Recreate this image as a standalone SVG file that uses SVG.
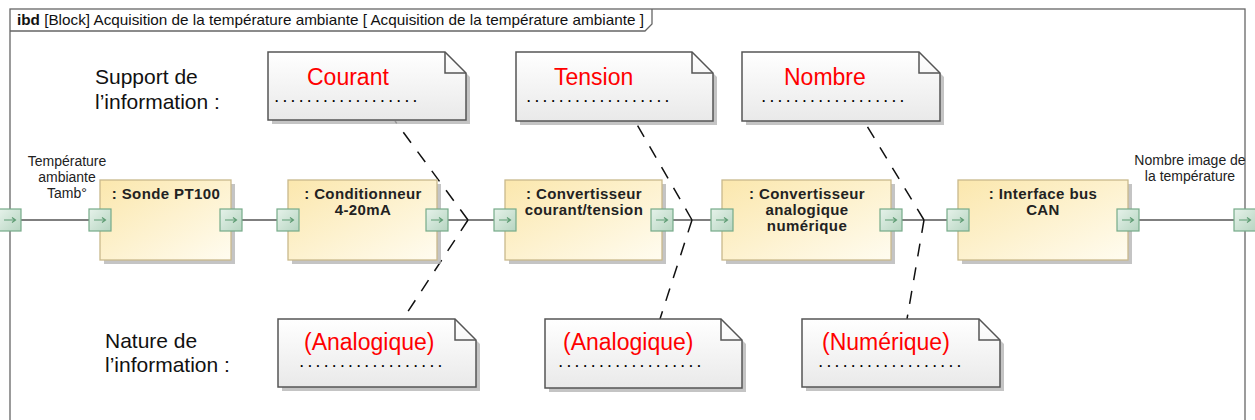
<svg xmlns="http://www.w3.org/2000/svg" width="1255" height="420" viewBox="0 0 1255 420">
<defs>
<linearGradient id="gBlock" x1="0" y1="0" x2="1" y2="1"><stop offset="0" stop-color="#fbe7ad"/><stop offset="1" stop-color="#fffcf0"/></linearGradient>
<linearGradient id="gNote" x1="0" y1="0" x2="0" y2="1"><stop offset="0" stop-color="#ffffff"/><stop offset="1" stop-color="#e9e9e9"/></linearGradient>
<linearGradient id="gPort" x1="0" y1="0" x2="1" y2="1"><stop offset="0" stop-color="#e6f2ea"/><stop offset="1" stop-color="#b6d5c1"/></linearGradient>
<g id="port">
<rect x="0" y="0" width="22" height="22" fill="url(#gPort)" stroke="#76ab89" stroke-width="1.2"/>
<path d="M5 11 H16 M13 8.5 L16.5 11 L13 13.5" fill="none" stroke="#5f9c74" stroke-width="1.2"/>
</g>
</defs>
<style>
.frame{fill:none;stroke:#666;stroke-width:1.3}
.blk{fill:url(#gBlock);stroke:#c9b98c;stroke-width:1.3}
.shadow{fill:#b5b5b5;opacity:0.8}
.note{fill:url(#gNote);stroke:#555;stroke-width:1.5}
.fold{fill:none;stroke:#555;stroke-width:1.5}
.conn{stroke:#555;stroke-width:1.6;fill:none}
.dash{stroke:#111;stroke-width:1.5;fill:none;stroke-dasharray:13 11}
.bt{font-family:"Liberation Sans",Arial,sans-serif;font-weight:bold;font-size:15px;fill:#222;text-anchor:middle;letter-spacing:0.4px}
.lbl{font-family:"Liberation Sans",Arial,sans-serif;font-size:21px;fill:#111}
.red{font-family:"Liberation Sans",Arial,sans-serif;font-size:23px;fill:#ff0000}
.dots{font-family:"Liberation Sans",Arial,sans-serif;font-size:12px;font-weight:bold;fill:#000;letter-spacing:4.8px}
.sm{font-family:"Liberation Sans",Arial,sans-serif;font-size:14px;fill:#222;text-anchor:middle}
.hd{font-family:"Liberation Sans",Arial,sans-serif;font-size:15px;fill:#111}
</style>
<rect width="1255" height="420" fill="#ffffff"/>

<g id="frame">
<rect class="frame" x="10" y="9" width="1235" height="420"/>
<path class="frame" d="M10 31 H645 L652 24 V9"/>
<text class="hd" x="17" y="25" textLength="627" lengthAdjust="spacingAndGlyphs"><tspan font-weight="bold">ibd</tspan> [Block] Acquisition de la température ambiante [ Acquisition de la température ambiante ]</text>
</g>

<g id="labels">
<text class="lbl" x="95" y="84">Support de</text>
<text class="lbl" x="95" y="109">l’information :</text>
<text class="lbl" x="105" y="348">Nature de</text>
<text class="lbl" x="105" y="372">l’information :</text>
<text class="sm" x="67" y="166">Température</text>
<text class="sm" x="67" y="182">ambiante</text>
<text class="sm" x="67" y="198">Tamb°</text>
<text class="sm" x="1190" y="165">Nombre image de</text>
<text class="sm" x="1190" y="181">la température</text>
</g>

<g id="connectors">
<line class="conn" x1="21" y1="220" x2="89" y2="220"/>
<line class="conn" x1="242" y1="220" x2="277" y2="220"/>
<line class="conn" x1="448" y1="220" x2="494" y2="220"/>
<line class="conn" x1="673" y1="220" x2="711" y2="220"/>
<line class="conn" x1="902" y1="220" x2="947" y2="220"/>
<line class="conn" x1="1139" y1="220" x2="1234" y2="220"/>
<path class="dash" d="M468 220 L395 121"/>
<path class="dash" d="M468 220 L403 319"/>
<path class="dash" d="M692 220 L635 121"/>
<path class="dash" d="M692 220 L660 319"/>
<path class="dash" d="M924 220 L864 121"/>
<path class="dash" d="M924 220 L907 319"/>
</g>

<g id="sonde">
<rect class="shadow" x="104" y="184" width="131" height="80"/>
<rect class="blk" x="100" y="180" width="131" height="80"/>
<text class="bt" x="166" y="199">: Sonde PT100</text>
</g>
<g id="conditionneur">
<rect class="shadow" x="292" y="184" width="149" height="80"/>
<rect class="blk" x="288" y="180" width="149" height="80"/>
<text class="bt" x="363" y="199">: Conditionneur</text>
<text class="bt" x="363" y="215">4-20mA</text>
</g>
<g id="cct">
<rect class="shadow" x="509" y="184" width="157" height="80"/>
<rect class="blk" x="505" y="180" width="157" height="80"/>
<text class="bt" x="584" y="199">: Convertisseur</text>
<text class="bt" x="584" y="215">courant/tension</text>
</g>
<g id="can">
<rect class="shadow" x="726" y="184" width="169" height="80"/>
<rect class="blk" x="722" y="180" width="169" height="80"/>
<text class="bt" x="807" y="199">: Convertisseur</text>
<text class="bt" x="807" y="215">analogique</text>
<text class="bt" x="807" y="231">numérique</text>
</g>
<g id="bus">
<rect class="shadow" x="962" y="184" width="170" height="80"/>
<rect class="blk" x="958" y="180" width="170" height="80"/>
<text class="bt" x="1043" y="199">: Interface bus</text>
<text class="bt" x="1043" y="215">CAN</text>
</g>

<g id="ports">
<use href="#port" x="-1" y="209"/>
<use href="#port" x="89" y="209"/>
<use href="#port" x="220" y="209"/>
<use href="#port" x="277" y="209"/>
<use href="#port" x="426" y="209"/>
<use href="#port" x="494" y="209"/>
<use href="#port" x="651" y="209"/>
<use href="#port" x="711" y="209"/>
<use href="#port" x="880" y="209"/>
<use href="#port" x="947" y="209"/>
<use href="#port" x="1117" y="209"/>
<use href="#port" x="1234" y="209"/>
</g>

<g id="note-courant">
<path class="shadow" d="M272 56 H449 L470 77 V124 H272 Z"/>
<path class="note" d="M268 52 H445 L466 73 V120 H268 Z"/>
<path class="fold" d="M445 52 V73 H466"/>
<text class="red" x="307" y="85">Courant</text>
<text class="dots" x="275" y="102">..................</text>
</g>
<g id="note-tension">
<path class="shadow" d="M520 56 H696 L717 77 V125 H520 Z"/>
<path class="note" d="M516 52 H692 L713 73 V121 H516 Z"/>
<path class="fold" d="M692 52 V73 H713"/>
<text class="red" x="554" y="85">Tension</text>
<text class="dots" x="527" y="102">..................</text>
</g>
<g id="note-nombre">
<path class="shadow" d="M746 56 H923 L944 77 V125 H746 Z"/>
<path class="note" d="M742 52 H919 L940 73 V121 H742 Z"/>
<path class="fold" d="M919 52 V73 H940"/>
<text class="red" x="784" y="85">Nombre</text>
<text class="dots" x="762" y="102">..................</text>
</g>
<g id="note-analogique1">
<path class="shadow" d="M282 323 H459 L480 344 V391 H282 Z"/>
<path class="note" d="M278 319 H455 L476 340 V387 H278 Z"/>
<path class="fold" d="M455 319 V340 H476"/>
<text class="red" x="304" y="350">(Analogique)</text>
<text class="dots" x="300" y="366.5">..................</text>
</g>
<g id="note-analogique2">
<path class="shadow" d="M549 323 H725 L746 344 V392 H549 Z"/>
<path class="note" d="M545 319 H721 L742 340 V388 H545 Z"/>
<path class="fold" d="M721 319 V340 H742"/>
<text class="red" x="563" y="350">(Analogique)</text>
<text class="dots" x="559" y="366.5">..................</text>
</g>
<g id="note-numerique">
<path class="shadow" d="M806 323 H983 L1004 344 V391 H806 Z"/>
<path class="note" d="M802 319 H979 L1000 340 V387 H802 Z"/>
<path class="fold" d="M979 319 V340 H1000"/>
<text class="red" x="822" y="350">(Numérique)</text>
<text class="dots" x="819" y="366.5">..................</text>
</g>
</svg>
